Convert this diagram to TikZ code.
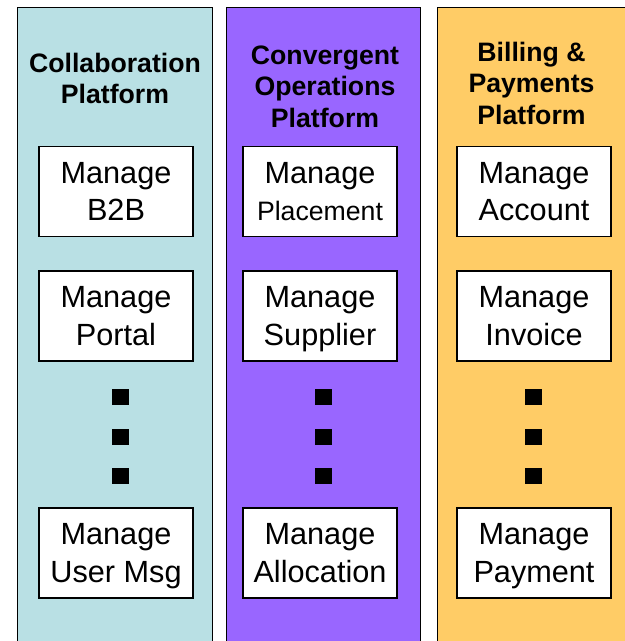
\documentclass[tikz,border=0pt]{standalone}
\usepackage{fontspec}
\setmainfont{Liberation Sans}
\usetikzlibrary{positioning}

\definecolor{collabcol}{RGB}{185,224,228}
\definecolor{opscol}{RGB}{153,102,255}
\definecolor{billcol}{RGB}{255,204,102}

\begin{document}
\begin{tikzpicture}[
x=0.75pt,
y=-0.75pt,
platform/.style={
  draw,
  line width=1pt,
  anchor=north west,
  minimum height=490pt,
  inner sep=0pt
  },
heading/.style={
  anchor=north,
  align=center,
  inner sep=0pt,
  font=\bfseries\fontsize{20}{23.5}\selectfont
  },
task/.style={
  draw,
  fill=white,
  line width=0.9pt,
  minimum width=115.5pt,
  minimum height=67.5pt,
  align=center,
  inner sep=0pt,
  text depth=0pt,
  font=\fontsize{23}{28}\selectfont
  },
dot/.style={
  fill=black,
  minimum width=12.75pt,
  minimum height=12pt,
  inner sep=0pt
  }
]
\useasboundingbox (0,0) rectangle (624,641);
\fill[white] (0,0) rectangle (624,641);
% the three platforms
\node[platform, fill=collabcol, minimum width=146.25pt] (collab) at (17,7) {};
\node[platform, fill=opscol, minimum width=145.5pt] (ops) at (226,7) {};
\node[platform, fill=billcol, minimum width=150pt] (bill) at (437,7) {};
\node[heading] (collab-title) at (115,53) {Collaboration\\Platform};
\node[heading] (ops-title) at (325,45.5) {Convergent\\Operations\\Platform};
\node[heading] (bill-title) at (531.5,42) {Billing \&\\Payments\\Platform};
% tasks
\node[task] (b2b) at (116,191.5) {Manage\\B2B};
\node[task] (portal) at (116,316) {Manage\\Portal};
\node[task] (usermsg) at (116,553) {Manage\\User Msg};
\node[task] (placement) at (320,191.5) {Manage\\{\fontsize{20}{28}\selectfont Placement}};
\node[task] (supplier) at (320,316) {Manage\\Supplier};
\node[task] (allocation) at (320,553) {Manage\\Allocation};
\node[task] (account) at (534,191.5) {Manage\\Account};
\node[task] (invoice) at (534,316) {Manage\\Invoice};
\node[task] (payment) at (534,553) {Manage\\Payment};
% dots between the tasks
\foreach \x [count=\ci] in {120,323,533}
{\foreach \y [count=\ri] in {397,436.5,476}
  \node[dot] (dot-\ci-\ri) at (\x,\y) {};
}
\end{tikzpicture}
\end{document}
